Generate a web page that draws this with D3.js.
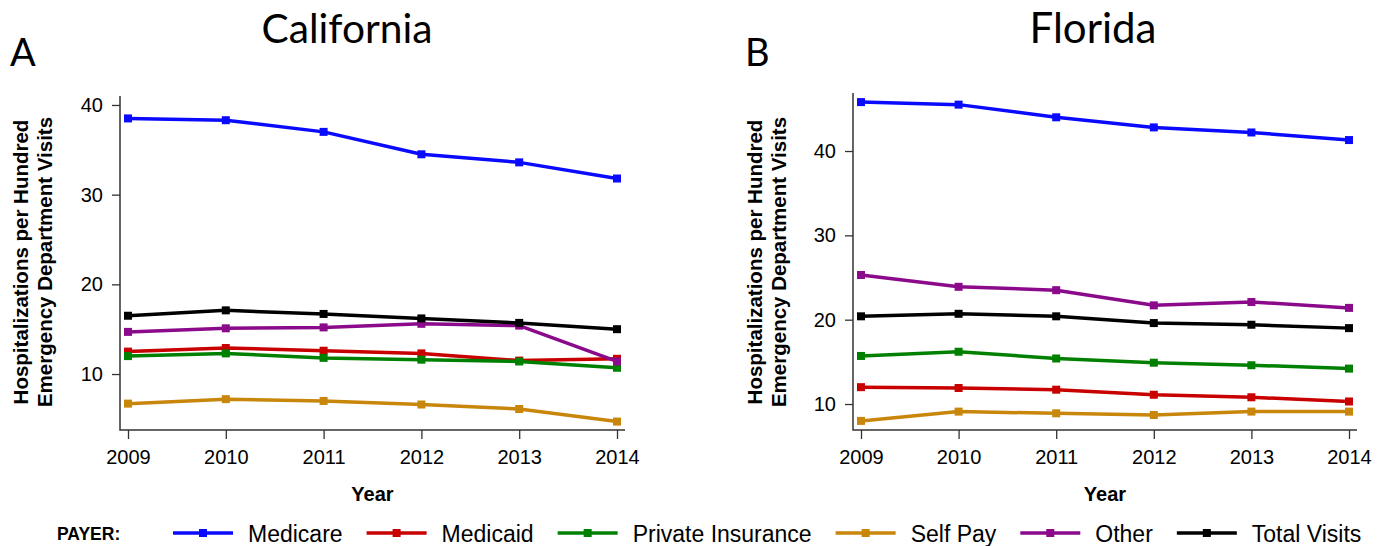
<!DOCTYPE html>
<html>
<head>
<meta charset="utf-8">
<script src="https://cdn.jsdelivr.net/npm/d3@7"></script>
<style>
  html, body { margin: 0; padding: 0; background: #fff; }
  svg { display: block; }
  text { font-family: "Liberation Sans", Arial, sans-serif; fill: #000; }
</style>
</head>
<body>
<svg id="chart" width="1395" height="546"></svg>
<script>
// ---- Data ----
const years = [2009, 2010, 2011, 2012, 2013, 2014];
const seriesNames = ["Medicare", "Medicaid", "Private Insurance", "Self Pay", "Other", "Total Visits"];
const seriesColors = ["#0a0aff", "#c80000", "#008000", "#c8860a", "#8b0a8b", "#000000"];

const caMedicare = [38.5, 38.3, 37.0, 34.5, 33.6, 31.8];
const caMedicaid = [12.5, 12.9, 12.6, 12.3, 11.5, 11.7];
const caPrivate  = [12.0, 12.3, 11.8, 11.6, 11.4, 10.7];
const caSelfPay  = [6.7, 7.2, 7.0, 6.6, 6.1, 4.7];
const caOther    = [14.7, 15.1, 15.2, 15.6, 15.4, 11.4];
const caTotal    = [16.5, 17.1, 16.7, 16.2, 15.7, 15.0];

const flMedicare = [45.8, 45.5, 44.0, 42.8, 42.2, 41.3];
const flMedicaid = [12.0, 11.9, 11.7, 11.1, 10.8, 10.3];
const flPrivate  = [15.7, 16.2, 15.4, 14.9, 14.6, 14.2];
const flSelfPay  = [8.0, 9.1, 8.9, 8.7, 9.1, 9.1];
const flOther    = [25.3, 23.9, 23.5, 21.7, 22.1, 21.4];
const flTotal    = [20.4, 20.7, 20.4, 19.6, 19.4, 19.0];

const yTicks = [10, 20, 30, 40];
const yLabelLines = ["Hospitalizations per Hundred", "Emergency Department Visits"];
const xLabel = "Year";
const legendTitle = "PAYER:";

const panels = [
  { letter: "A", title: "California", data: [caMedicare, caMedicaid, caPrivate, caSelfPay, caOther, caTotal],
    yDomain: [3.76, 41.0], xRange: [128, 617], yRange: [430, 96], axisX: 120, axisRight: 625,
    titleCx: 347, titleW: 171, letterX: 10, yLabX: 28 },
  { letter: "B", title: "Florida", data: [flMedicare, flMedicaid, flPrivate, flSelfPay, flOther, flTotal],
    yDomain: [6.92, 46.88], xRange: [861, 1349], yRange: [430, 93], axisX: 853, axisRight: 1357,
    titleCx: 1093, titleW: 127, letterX: 745, yLabX: 762 }
];

const svg = d3.select("#chart");

function fitText(sel, targetW, baseSize) {
  sel.style("font-size", baseSize + "px");
  const w = sel.node().getComputedTextLength();
  if (w > 0) sel.style("font-size", (baseSize * targetW / w) + "px");
}

panels.forEach(p => {
  const g = svg.append("g");
  const x = d3.scaleLinear().domain(d3.extent(years)).range(p.xRange);
  const y = d3.scaleLinear().domain(p.yDomain).range(p.yRange);
  const yBottom = y.range()[0], yTop = y.range()[1];

  // titles
  const t = g.append("text").attr("x", p.titleCx).attr("y", 43).attr("text-anchor", "middle")
    .style("font-family", "Lato, 'Open Sans', sans-serif").text(p.title);
  fitText(t, p.titleW, 46);
  g.append("text").attr("x", p.letterX).attr("y", 66)
    .style("font-family", "Lato, 'Open Sans', sans-serif").style("font-size", "38px").text(p.letter);

  // axes
  const yAxis = d3.axisLeft(y).tickValues(yTicks).tickSize(8).tickPadding(9).tickFormat(d3.format("d"));
  const ya = g.append("g").attr("transform", `translate(${p.axisX},0)`).call(yAxis);
  ya.select(".domain").remove();
  ya.selectAll("line").attr("stroke", "#333").attr("stroke-width", 1.3);
  ya.selectAll("text").style("font-size", "20px").style("font-family", "'Liberation Sans', Arial, sans-serif");

  const xAxis = d3.axisBottom(x).tickValues(years).tickSize(9).tickPadding(11).tickFormat(d3.format("d"));
  const xa = g.append("g").attr("transform", `translate(0,${yBottom})`).call(xAxis);
  xa.select(".domain").remove();
  xa.selectAll("line").attr("stroke", "#333").attr("stroke-width", 1.3);
  xa.selectAll("text").style("font-size", "20px").style("font-family", "'Liberation Sans', Arial, sans-serif");

  g.append("path")
    .attr("d", `M${p.axisX},${yTop}V${yBottom}H${p.axisRight}`)
    .attr("fill", "none").attr("stroke", "#333").attr("stroke-width", 1.5);

  // axis labels
  const cy = 262;
  yLabelLines.forEach((line, i) => {
    g.append("text")
      .attr("transform", `translate(${p.yLabX + i * 24},${cy}) rotate(-90)`)
      .attr("text-anchor", "middle")
      .style("font-weight", "bold").style("font-size", "20.5px")
      .text(line);
  });
  g.append("text").attr("x", (p.xRange[0] + p.xRange[1]) / 2).attr("y", 501)
    .attr("text-anchor", "middle").style("font-weight", "bold").style("font-size", "20px").text(xLabel);

  // series
  const line = d3.line().x((d, i) => x(years[i])).y(d => y(d));
  p.data.forEach((vals, si) => {
    const c = seriesColors[si];
    g.append("path").datum(vals).attr("d", line)
      .attr("fill", "none").attr("stroke", c).attr("stroke-width", 3.5)
      .attr("stroke-linejoin", "round");
    g.selectAll(null).data(vals).enter().append("rect")
      .attr("x", (d, i) => x(years[i]) - 4).attr("y", d => y(d) - 4)
      .attr("width", 8).attr("height", 8).attr("fill", c);
  });
});

// legend
const lg = svg.append("g");
const ly = 533;
lg.append("text").attr("x", 57).attr("y", ly + 6.5).style("font-weight", "bold")
  .style("font-size", "17.5px").text(legendTitle);
let cx = 173;
seriesNames.forEach((name, i) => {
  const c = seriesColors[i];
  lg.append("line").attr("x1", cx).attr("x2", cx + 60).attr("y1", ly).attr("y2", ly)
    .attr("stroke", c).attr("stroke-width", 3.5);
  lg.append("rect").attr("x", cx + 30 - 4).attr("y", ly - 4).attr("width", 8).attr("height", 8).attr("fill", c);
  const tx = lg.append("text").attr("x", cx + 75).attr("y", ly + 8.5).style("font-size", "23px").text(name);
  const w = tx.node().getComputedTextLength();
  cx = cx + 75 + w + 24;
});
</script>
</body>
</html>
